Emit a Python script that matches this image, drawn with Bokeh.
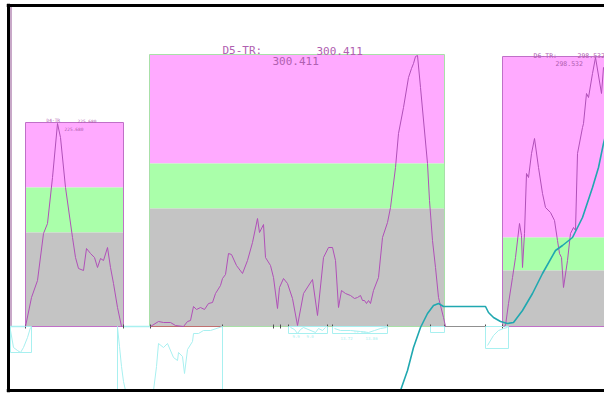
from bokeh.plotting import figure
from bokeh.models import Range1d, Span
from bokeh.core.properties import value
from bokeh.embed import file_html
from bokeh.resources import INLINE

# ---------------- data ----------------
peaks = ["D4", "D5", "D6"]
peak_start = [25, 149, 502]
peak_end = [123, 444, 612]
peak_top = [204, 272, 270]
green_top = [139, 163, 89]
grey_top = [94, 118, 56]
peak_value = ["225.680", "300.411", "298.532"]

d4_x = [25, 31, 37, 43, 47, 52, 57, 60, 65, 72, 75, 78, 83, 86, 90, 94, 97, 100, 103, 107, 110, 113, 117, 121]
d4_y = [0, 29, 46, 93, 103, 149, 203, 189, 139, 89, 69, 58, 56, 78, 73, 69, 59, 68, 66, 79, 59, 43, 19, 0]

d5_x = [150, 158, 163, 170, 175, 183, 187, 190, 193, 196, 200, 204, 208, 212, 215, 220, 222, 225, 228, 231,
        236, 242, 247, 252, 257, 259, 263, 265, 270, 273, 277, 279, 283, 287, 292, 297, 303, 312, 317, 323,
        328, 332, 335, 338, 341, 345, 350, 354, 357, 360, 362, 364, 366, 368, 370, 373, 378, 382, 387, 390,
        395, 398, 403, 408, 411, 413, 415, 417, 420, 427, 429, 432, 435, 438, 443, 445]
d5_y = [0, 5, 4, 4, 1, 0, 5, 6, 20, 17, 19, 17, 23, 24, 33, 41, 48, 52, 73, 72,
        61, 53, 66, 84, 108, 94, 102, 69, 61, 49, 18, 39, 48, 43, 28, 1, 33, 47, 11, 69,
        79, 79, 66, 19, 36, 33, 31, 28, 29, 31, 26, 26, 23, 26, 23, 36, 49, 89, 104, 119,
        159, 193, 219, 249, 258, 263, 270, 271, 239, 163, 126, 86, 59, 29, 9, 0]

d6_x = [503, 505, 508, 512, 515, 519, 521, 522, 524, 526, 528, 531, 534, 538, 542, 545, 550, 554, 557, 559,
        561, 563, 567, 570, 573, 575, 577, 582, 583, 586, 588, 592, 595, 601, 603, 606]
d6_y = [0, 1, 23, 49, 69, 103, 91, 59, 93, 153, 149, 173, 188, 159, 133, 119, 114, 106, 86, 73,
        69, 39, 66, 93, 99, 96, 173, 199, 203, 233, 229, 253, 269, 233, 259, 250]

temp_x = [398, 400, 407, 413, 420, 427, 433, 438, 443, 450, 485, 488, 493, 500, 507, 513, 522, 532, 542, 555,
          562, 572, 582, 592, 598, 603, 606]
temp_y = [-72, -64, -44, -21, -1, 13, 21, 23, 20, 20, 20, 14, 9, 5, 3, 4, 16, 33, 53, 76,
          81, 89, 109, 139, 159, 183, 195]

deriv1_x = [10, 13, 17, 20, 23, 27, 30]
deriv1_y = [-4, -21, -24, -26, -21, -11, -1]
deriv2_x = [117, 119, 121, 123, 125]
deriv2_y = [-1, -20, -40, -55, -64]
deriv3_x = [153, 156, 158, 163, 167, 173, 177, 178, 182, 184, 187, 192, 193, 198, 203, 210, 222]
deriv3_y = [-64, -40, -17, -21, -17, -31, -34, -26, -30, -47, -23, -15, -7, -7, -4, -4, 0]
deriv4_x = [290, 294, 297, 300, 303, 315, 318, 322, 325]
deriv4_y = [-1, -3, -7, -3, -1, -6, -2, -4, -1]
deriv5_x = [334, 340, 350, 360, 368, 374, 380, 386]
deriv5_y = [-2, -4, -4, -5, -6, -4, -2, -1]
deriv6_x = [487, 493, 498, 503, 507]
deriv6_y = [-19, -9, -4, -2, -1]

win_left = [10, 117, 222, 288, 332, 430, 485]
win_right = [31, 117, 222, 327, 387, 444, 508]
win_bottom = [-26, -64, -64, -7, -7, -6, -22]

int_left = [150, 288, 332, 430]
int_right = [222, 327, 387, 444]

tick_x = [25, 123, 150, 222, 273, 280, 288, 327, 332, 387, 430, 444, 485, 502]

small_labels = ["9.9", "9.0", "13.72", "13.86", "13.86"]
small_x = [292, 306, 340, 365, 353]
small_y = [-11, -11, -13, -13, -7]

# ---------------- figure ----------------
FX0, FY0, FY1 = 8, -64, 321          # frame lines of the reference
p = figure(width=604, height=393, output_backend="svg", toolbar_location=None,
           x_range=Range1d(6, 604), y_range=Range1d(-66, 323),
           min_border_left=6, min_border_right=0, min_border_top=3, min_border_bottom=1)
p.xaxis.visible = False
p.yaxis.visible = False
p.grid.visible = False
p.outline_line_color = None
p.background_fill_color = "white"
p.border_fill_color = "white"

PINK = "#ffaaff"
GREEN = "#aaffaa"
GREY = "#c4c4c4"
PURPLE = "#b050b8"
LABEL = "#b060b0"
TEAL = "#20a8b0"
CYAN = "#a8f0f0"

zeros = [0] * len(peaks)
p.quad(left=peak_start, right=peak_end, top=peak_top, bottom=green_top, fill_color=PINK, line_color=None)
p.quad(left=peak_start, right=peak_end, top=green_top, bottom=grey_top, fill_color=GREEN, line_color=None)
p.quad(left=peak_start, right=peak_end, top=grey_top, bottom=zeros, fill_color=GREY, line_color=None)
p.quad(left=peak_start, right=peak_end, top=peak_top, bottom=zeros, fill_color=None,
       line_color=["#c070c8", "#a8e0a8", "#c070c8"], line_width=1)

# left lavender marker line and baselines
p.segment(x0=[10.5], y0=[0], x1=[10.5], y1=[FY1], line_color="#c8a8c8", line_width=2)
p.segment(x0=[10, 123], y0=[0, 0], x1=[25, 150], y1=[0, 0], line_color=CYAN, line_width=1.5)
p.segment(x0=[444], y0=[0], x1=[502], y1=[0], line_color="#909090", line_width=1)
p.segment(x0=int_left, y0=[0] * len(int_left), x1=int_right, y1=[0] * len(int_right),
          line_color="#c07070", line_width=1)
p.segment(x0=tick_x, y0=[-2] * len(tick_x), x1=tick_x, y1=[2] * len(tick_x),
          line_color="#505050", line_width=1)

# derivative windows (light cyan)
p.quad(left=win_left, right=win_right, top=[0] * len(win_left), bottom=win_bottom,
       fill_color=None, line_color=CYAN, line_width=1)
for xs, ys in [(deriv1_x, deriv1_y), (deriv2_x, deriv2_y), (deriv3_x, deriv3_y),
               (deriv4_x, deriv4_y), (deriv5_x, deriv5_y), (deriv6_x, deriv6_y)]:
    p.line(xs, ys, line_color=CYAN, line_width=1)
p.text(x=small_x, y=small_y, text=small_labels, text_font=value("DejaVu Sans Mono"),
       text_font_size="4px", text_color=CYAN)

# chromatogram traces
for xs, ys in [(d4_x, d4_y), (d5_x, d5_y), (d6_x, d6_y)]:
    p.line(xs, ys, line_color=PURPLE, line_width=1)

# temperature trace (clipped at the frame line)
p.line(temp_x[1:], temp_y[1:], line_color=TEAL, line_width=1.6)

# peak labels
sizes = ["4.5px", "11px", "6.5px"]
p.text(x=[46, 222, 533], y=[206, 276, 271], text=[k + "-TR" if k == "D4" else k + "-TR:" for k in peaks],
       text_font=value("DejaVu Sans Mono"), text_font_size=sizes,
       text_color=LABEL, text_baseline="alphabetic")
p.text(x=[77, 316, 577], y=[206, 276, 271], text=peak_value,
       text_font=value("DejaVu Sans Mono"), text_font_size=sizes,
       text_color=LABEL, text_baseline="alphabetic")
p.text(x=[64, 272, 555], y=[198, 266, 263], text=peak_value,
       text_font=value("DejaVu Sans Mono"), text_font_size=sizes,
       text_color=LABEL, text_baseline="alphabetic")

# frame (left, top, bottom) — no right edge in the reference
p.add_layout(Span(location=FX0, dimension="height", line_color="black", line_width=3))
p.add_layout(Span(location=FY1, dimension="width", line_color="black", line_width=3))
p.add_layout(Span(location=FY0, dimension="width", line_color="black", line_width=3))

open("out.html", "w").write(file_html(p, INLINE))
